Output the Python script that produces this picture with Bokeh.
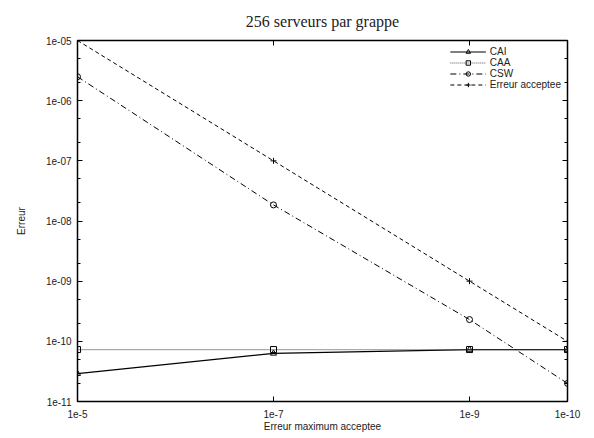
from bokeh.plotting import figure
from bokeh.models import (FixedTicker, LogAxis, Legend, LegendItem, Range1d, Title)
from bokeh.embed import file_html
from bokeh.resources import INLINE

# Data
x_vals = [1e-5, 1e-7, 1e-9, 1e-10]
x_labels = ["1e-5", "1e-7", "1e-9", "1e-10"]
cai = [2.9e-11, 6.3e-11, 7.3e-11, 7.3e-11]
caa = [7.3e-11, 7.3e-11, 7.3e-11, 7.3e-11]
csw = [2.5e-6, 1.85e-8, 2.3e-10, 2.0e-11]
erreur = [1e-5, 1e-7, 1e-9, 1e-10]
y_ticks = [1e-11, 1e-10, 1e-9, 1e-8, 1e-7, 1e-6, 1e-5]
y_labels = ["1e-11", "1e-10", "1e-09", "1e-08", "1e-07", "1e-06", "1e-05"]
y_minor = [m * 10.0**e for e in range(-11, -5) for m in (2, 5)]

FONT = "Liberation Sans"
TXT = "#222222"

p = figure(frame_width=490, frame_height=361, x_axis_type="log", y_axis_type="log",
           x_range=Range1d(1e-5, 1e-10), y_range=Range1d(1e-11, 1e-5),
           output_backend="svg", toolbar_location=None, title=None,
           min_border_left=77, min_border_right=27, min_border_top=0, min_border_bottom=37)
p.grid.visible = False
p.outline_line_color = "black"
p.outline_line_width = 1.5

xa = p.xaxis[0]
xa.ticker = FixedTicker(ticks=x_vals, minor_ticks=[])
xa.major_label_overrides = {x: l for x, l in zip(x_vals, x_labels)}
xa.axis_label = "Erreur maximum acceptee"
ya = p.yaxis[0]
ya.ticker = FixedTicker(ticks=y_ticks, minor_ticks=y_minor)
ya.major_label_overrides = {t: l for t, l in zip(y_ticks, y_labels)}
ya.axis_label = "Erreur"
for ax in (xa, ya):
    ax.major_label_text_font = FONT
    ax.major_label_text_font_size = "10px"
    ax.axis_label_text_font = FONT
    ax.axis_label_text_font_size = "10px"
    ax.axis_label_text_font_style = "normal"
    ax.major_tick_in = 5
    ax.major_tick_out = 0
    ax.minor_tick_in = 3
    ax.minor_tick_out = 0
    ax.axis_line_color = None
    ax.major_label_text_color = TXT
    ax.axis_label_text_color = TXT
xa.major_label_standoff = 8
xa.axis_label_standoff = 0
ya.major_label_standoff = 6
ya.axis_label_standoff = 16

top = LogAxis(ticker=FixedTicker(ticks=[1e-7, 1e-9], minor_ticks=[]),
              major_label_overrides={1e-7: "", 1e-9: ""}, major_label_text_font_size="1px",
              major_tick_in=5, major_tick_out=0, minor_tick_in=0, minor_tick_out=0,
              axis_line_color=None, major_label_standoff=0)
right = LogAxis(ticker=FixedTicker(ticks=y_ticks[1:-1], minor_ticks=y_minor),
                major_label_overrides={t: "" for t in y_ticks[1:-1]}, major_label_text_font_size="1px",
                major_tick_in=5, major_tick_out=0, minor_tick_in=3, minor_tick_out=0,
                axis_line_color=None, major_label_standoff=0)
p.add_layout(top, "above")
p.add_layout(right, "right")

title = Title(text="256 serveurs par grappe", align="center", text_font="Liberation Serif",
              text_font_size="16px", text_font_style="normal", text_color=TXT,
              standoff=21)
p.add_layout(title, "above")

r1 = p.line(x_vals, cai, line_color="black", line_width=1.2)
m1 = p.scatter(x_vals, cai, marker="triangle", size=6, line_color="black", fill_color=None)
r2 = p.line(x_vals, caa, line_color="#555555", line_width=1.2, line_dash="1 1")
m2 = p.scatter(x_vals, caa, marker="square", size=6, line_color="black", fill_color=None)
r3 = p.line(x_vals, csw, line_color="black", line_width=1, line_dash="6 3 1 3")
m3 = p.scatter(x_vals, csw, marker="circle", size=6, line_color="black", fill_color=None)
r4 = p.line(x_vals, erreur, line_color="black", line_width=1, line_dash="4 3")
m4 = p.scatter(x_vals, erreur, marker="cross", size=6, line_color="black")

legend = Legend(items=[LegendItem(label="CAI", renderers=[r1, m1]),
                       LegendItem(label="CAA", renderers=[r2, m2]),
                       LegendItem(label="CSW", renderers=[r3, m3]),
                       LegendItem(label="Erreur acceptee", renderers=[r4, m4])],
                location="top_right", border_line_color=None, background_fill_alpha=0,
                label_text_font=FONT, label_text_font_size="10px", label_height=11,
                glyph_height=11, glyph_width=36, spacing=0, padding=2, margin=6,
                label_standoff=4, label_text_color=TXT)
p.add_layout(legend)

open("out.html", "w").write(file_html(p, INLINE))
